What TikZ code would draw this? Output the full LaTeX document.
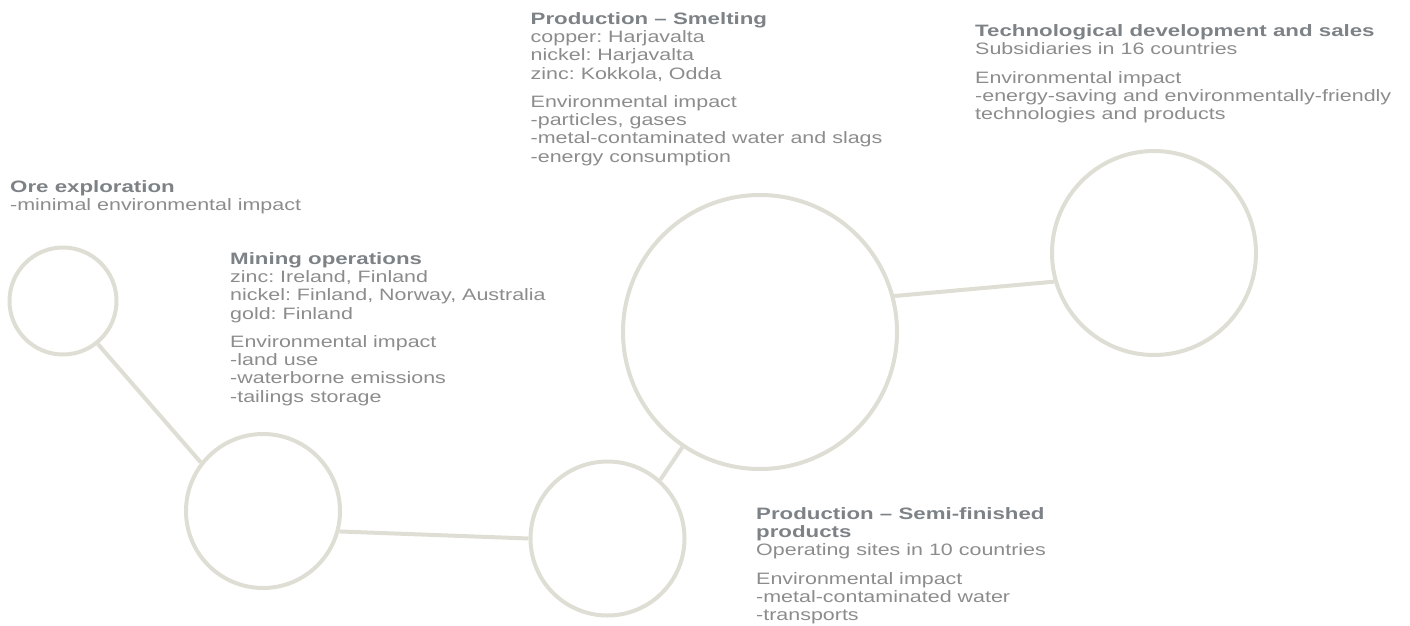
\documentclass[tikz,border=0pt]{standalone}
\usepackage{fontspec}
\setmainfont{Liberation Sans}[FakeStretch=1.3, BoldFeatures={FakeStretch=1.35}]
\usepackage{xcolor}
\usepackage{tikz}
\frenchspacing

\definecolor{ringgray}{RGB}{222,222,212}
\definecolor{headgray}{RGB}{125,130,135}
\definecolor{textgray}{RGB}{140,140,140}
\tikzset{
  ring/.style={circle, draw=ringgray, line width=4pt, inner sep=0pt},
  link/.style={draw=ringgray, line width=4pt},
  info/.style={anchor=north west, align=left, inner sep=0pt, text=textgray, font=\fontsize{16.5}{18.3}\selectfont}
}
\newcommand{\head}[1]{\textbf{\color{headgray}#1}}

\begin{document}
\begin{tikzpicture}[x=1pt,y=-1pt]
\useasboundingbox (0,0) rectangle (1410,626);
\node[ring, minimum size=107pt] (ore) at (63,301) {};
\node[ring, minimum size=154pt] (mine) at (263,511) {};
\node[ring, minimum size=154pt] (semi) at (607.5,538.5) {};
\node[ring, minimum size=274pt] (smelt) at (760,332) {};
\node[ring, minimum size=204pt] (tech) at (1154,253) {};
\draw[link] (ore.-51.5) -- (mine.142);
\draw[link] (mine.-15) -- (semi.180);
\draw[link] (semi.48.6) -- (smelt.-124);
\draw[link] (smelt.15) -- (tech.196);
\node[info] (oretext) at (10,180) {\head{Ore exploration}\\-minimal environmental impact};
\node[info] (minetext) at (230,252) {\head{Mining operations}\\zinc: Ireland, Finland\\nickel: Finland, Norway, Australia\\gold: Finland\\[10pt]Environmental impact\\-land use\\-waterborne emissions\\-tailings storage};
\node[info] (smelttext) at (530.5,12) {\head{Production – Smelting}\\copper: Harjavalta\\nickel: Harjavalta\\zinc: Kokkola, Odda\\[10pt]Environmental impact\\-particles, gases\\-metal-contaminated water and slags\\-energy consumption};
\node[info] (techtext) at (975,24.5) {\head{Technological development and sales}\\Subsidiaries in 16 countries\\[10pt]Environmental impact\\-energy-saving and environmentally-friendly\\technologies and products};
\node[info] (semitext) at (756,507) {\head{Production – Semi-finished}\\\head{products}\\Operating sites in 10 countries\\[10pt]Environmental impact\\-metal-contaminated water\\-transports};
\end{tikzpicture}
\end{document}
